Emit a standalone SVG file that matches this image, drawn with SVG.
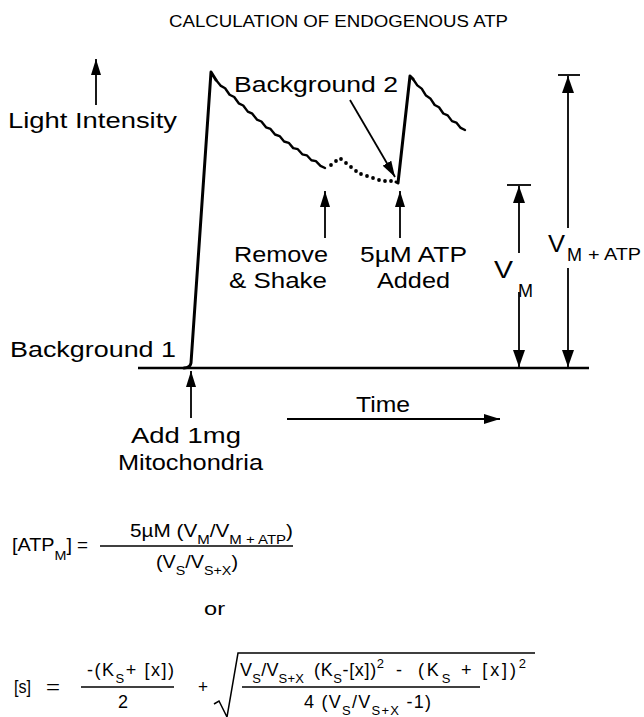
<svg xmlns="http://www.w3.org/2000/svg" width="644" height="717" viewBox="0 0 644 717">
<style>
text{font-family:"Liberation Sans",Arial,Helvetica,sans-serif;fill:#000}
.lbl{font-size:22px}
.ttl{font-size:16px}
.f{font-size:18px}
.s{font-size:13px}
.vs{font-size:19px}
.conn line{stroke:#000;stroke-width:1.8;fill:none}
.bar{stroke:#000;stroke-width:2.2}
.trace{stroke:#000;stroke-width:3;fill:none;stroke-linejoin:round;stroke-linecap:round}
.wave{stroke:#000;stroke-width:2.4;fill:none;stroke-linejoin:round;stroke-linecap:round}
.rule{stroke:#000;stroke-width:1.5;fill:none}
</style>
<defs>
<marker id="ah" viewBox="0 0 16 10" refX="16" refY="5" markerWidth="16" markerHeight="10" markerUnits="userSpaceOnUse" orient="auto"><path d="M0,0 L16,5 L0,10 Z" fill="#000"/></marker>
<marker id="ahv" viewBox="0 0 17 12" refX="17" refY="6" markerWidth="17" markerHeight="12" markerUnits="userSpaceOnUse" orient="auto"><path d="M0,0 L17,6 L0,12 Z" fill="#000"/></marker>
</defs>
<rect width="644" height="717" fill="#fff"/>

<g id="title"><text class="ttl" x="169" y="27" textLength="339" lengthAdjust="spacingAndGlyphs">CALCULATION OF ENDOGENOUS ATP</text></g>

<g id="trace">
<line x1="138" y1="368" x2="589" y2="368" stroke="#000" stroke-width="2.6"/>
<path class="trace" d="M184 368 Q190 368 191 363 L211 72 L216 80"/>
<polyline class="wave" points="216,80 220.5,85.6 225.1,88.2 229.6,94.7 234.2,97 238.7,103.3 243.2,105.5 247.8,111.6 252.3,113.7 256.9,119.6 261.4,121.5 266,127.3 270.5,128.9 275,134.5 279.6,136.1 284.1,141.5 288.7,142.8 293.2,148.1 297.8,149.2 302.3,154.3 306.8,155.3 311.4,160.2 315.9,161.1 320.5,165.8 325,168"/>
<g fill="#000">
<circle cx="331" cy="165" r="1.9"/><circle cx="336" cy="161" r="1.9"/><circle cx="341" cy="159" r="1.9"/><circle cx="346" cy="163" r="1.9"/><circle cx="351" cy="167" r="1.9"/><circle cx="356" cy="171" r="1.9"/><circle cx="361" cy="174" r="1.9"/><circle cx="367" cy="176" r="1.9"/><circle cx="373" cy="178" r="1.9"/><circle cx="379" cy="180" r="1.9"/><circle cx="385" cy="181" r="1.9"/><circle cx="391" cy="181" r="1.9"/>
</g>
<path class="trace" d="M396 182 L398 183 L410 76 L413 79" stroke-width="3.4"/>
<polyline class="wave" points="413,79 417.3,85.4 421.7,88.6 426,95.6 430.3,98.4 434.7,105 439,107.3 443.3,113.5 447.7,115.4 452,121.1 456.3,122.6 460.7,127.9 465,130"/>
</g>

<g id="light-intensity"><text class="lbl" x="8" y="128" textLength="169" lengthAdjust="spacingAndGlyphs">Light Intensity</text></g>
<g id="background-2"><text class="lbl" x="234" y="92" textLength="164" lengthAdjust="spacingAndGlyphs">Background 2</text></g>
<g id="remove-shake">
<text class="lbl" x="234" y="262" textLength="94" lengthAdjust="spacingAndGlyphs">Remove</text>
<text class="lbl" x="229" y="288" textLength="98" lengthAdjust="spacingAndGlyphs">&amp; Shake</text>
</g>
<g id="atp-added">
<text class="lbl" x="360" y="262" textLength="107" lengthAdjust="spacingAndGlyphs">5µM ATP</text>
<text class="lbl" x="377" y="288" textLength="73" lengthAdjust="spacingAndGlyphs">Added</text>
</g>
<g id="vm-label">
<text class="lbl" x="494" y="278" textLength="19" lengthAdjust="spacingAndGlyphs" style="font-size:24px">V</text>
<text class="vs" x="518" y="297" textLength="15" lengthAdjust="spacingAndGlyphs">M</text>
</g>
<g id="vmatp-label">
<text class="lbl" x="548" y="252" textLength="17" lengthAdjust="spacingAndGlyphs" style="font-size:24px">V</text>
<text class="vs" x="567" y="261" textLength="15" lengthAdjust="spacingAndGlyphs">M</text>
<text x="588" y="260" style="font-size:16px" textLength="53" lengthAdjust="spacingAndGlyphs">+ ATP</text>
</g>
<g id="background-1"><text class="lbl" x="10" y="357" textLength="166" lengthAdjust="spacingAndGlyphs">Background 1</text></g>
<g id="time"><text class="lbl" x="356" y="412" textLength="54" lengthAdjust="spacingAndGlyphs">Time</text></g>
<g id="add-mito">
<text class="lbl" x="131" y="443" textLength="110" lengthAdjust="spacingAndGlyphs">Add 1mg</text>
<text class="lbl" x="118" y="470" textLength="145" lengthAdjust="spacingAndGlyphs">Mitochondria</text>
</g>

<g id="connectors" class="conn">
<line x1="96" y1="105" x2="96" y2="59" marker-end="url(#ah)"/>
<line x1="350" y1="100" x2="395" y2="177" marker-end="url(#ah)"/>
<line x1="325" y1="238" x2="325" y2="191" marker-end="url(#ah)"/>
<line x1="400" y1="238" x2="400" y2="191" marker-end="url(#ah)"/>
<line x1="191" y1="418" x2="191" y2="371" marker-end="url(#ah)"/>
<line x1="287" y1="419" x2="500" y2="419" marker-end="url(#ah)"/>
<line x1="519" y1="253" x2="519" y2="186" marker-end="url(#ahv)"/>
<line class="bar" x1="507" y1="185" x2="531" y2="185"/>
<line x1="519" y1="292" x2="519" y2="367" marker-end="url(#ahv)"/>
<line x1="568" y1="228" x2="568" y2="76" marker-end="url(#ahv)"/>
<line class="bar" x1="558" y1="75" x2="580" y2="75"/>
<line x1="568" y1="268" x2="568" y2="367" marker-end="url(#ahv)"/>
</g>

<g id="formula-atp">
<text class="f" x="12" y="551" textLength="60" lengthAdjust="spacingAndGlyphs">[ATP<tspan class="s" dy="9">M</tspan><tspan dy="-9">]</tspan></text>
<text class="f" x="77" y="551" textLength="11" lengthAdjust="spacingAndGlyphs">=</text>
<line class="rule" x1="100" y1="546" x2="293" y2="546"/>
<text class="f" x="130" y="537" textLength="163" lengthAdjust="spacingAndGlyphs">5µM (V<tspan class="s" dy="7">M</tspan><tspan dy="-7">/V</tspan><tspan class="s" dy="7">M + ATP</tspan><tspan dy="-7">)</tspan></text>
<text class="f" x="156" y="568" textLength="82" lengthAdjust="spacingAndGlyphs">(V<tspan class="s" dy="7">S</tspan><tspan dy="-7">/V</tspan><tspan class="s" dy="7">S+X</tspan><tspan dy="-7">)</tspan></text>
</g>

<g id="or"><text class="f" x="204" y="615" textLength="21" lengthAdjust="spacingAndGlyphs">or</text></g>

<g id="formula-s">
<text class="f" x="14" y="693" textLength="17" lengthAdjust="spacingAndGlyphs">[s]</text>
<text class="f" x="46" y="693" textLength="14" lengthAdjust="spacingAndGlyphs">=</text>
<text class="f" x="87" y="676" textLength="87" lengthAdjust="spacing">-(K<tspan class="s" dy="7">S</tspan><tspan dy="-7">+ [x])</tspan></text>
<line class="rule" x1="81" y1="687" x2="174" y2="687"/>
<text class="f" x="118" y="708" textLength="10" lengthAdjust="spacingAndGlyphs">2</text>
<text class="f" x="198" y="693" textLength="10" lengthAdjust="spacingAndGlyphs">+</text>
<path class="rule" d="M214 704 L219 701 L227 717 L238 653 L535 653"/>
<text class="f" x="240" y="676" textLength="64" lengthAdjust="spacing">V<tspan class="s" dy="7">S</tspan><tspan dy="-7">/V</tspan><tspan class="s" dy="7">S+X</tspan></text>
<text class="f" x="314" y="676" textLength="70" lengthAdjust="spacing">(K<tspan class="s" dy="7">S</tspan><tspan dy="-7">-[x])</tspan><tspan class="s" dy="-8">2</tspan></text>
<text class="f" x="396" y="676" textLength="6" lengthAdjust="spacingAndGlyphs">-</text>
<text class="f" x="418" y="676" textLength="108" lengthAdjust="spacing">(K<tspan class="s" dy="7">S</tspan><tspan dy="-7"> + [x])</tspan><tspan class="s" dy="-8">2</tspan></text>
<line class="rule" x1="242" y1="687" x2="480" y2="687"/>
<text class="f" x="304" y="708" textLength="127" lengthAdjust="spacing">4 (V<tspan class="s" dy="7">S</tspan><tspan dy="-7">/V</tspan><tspan class="s" dy="7">S+X</tspan><tspan dy="-7"> -1)</tspan></text>
</g>
</svg>
